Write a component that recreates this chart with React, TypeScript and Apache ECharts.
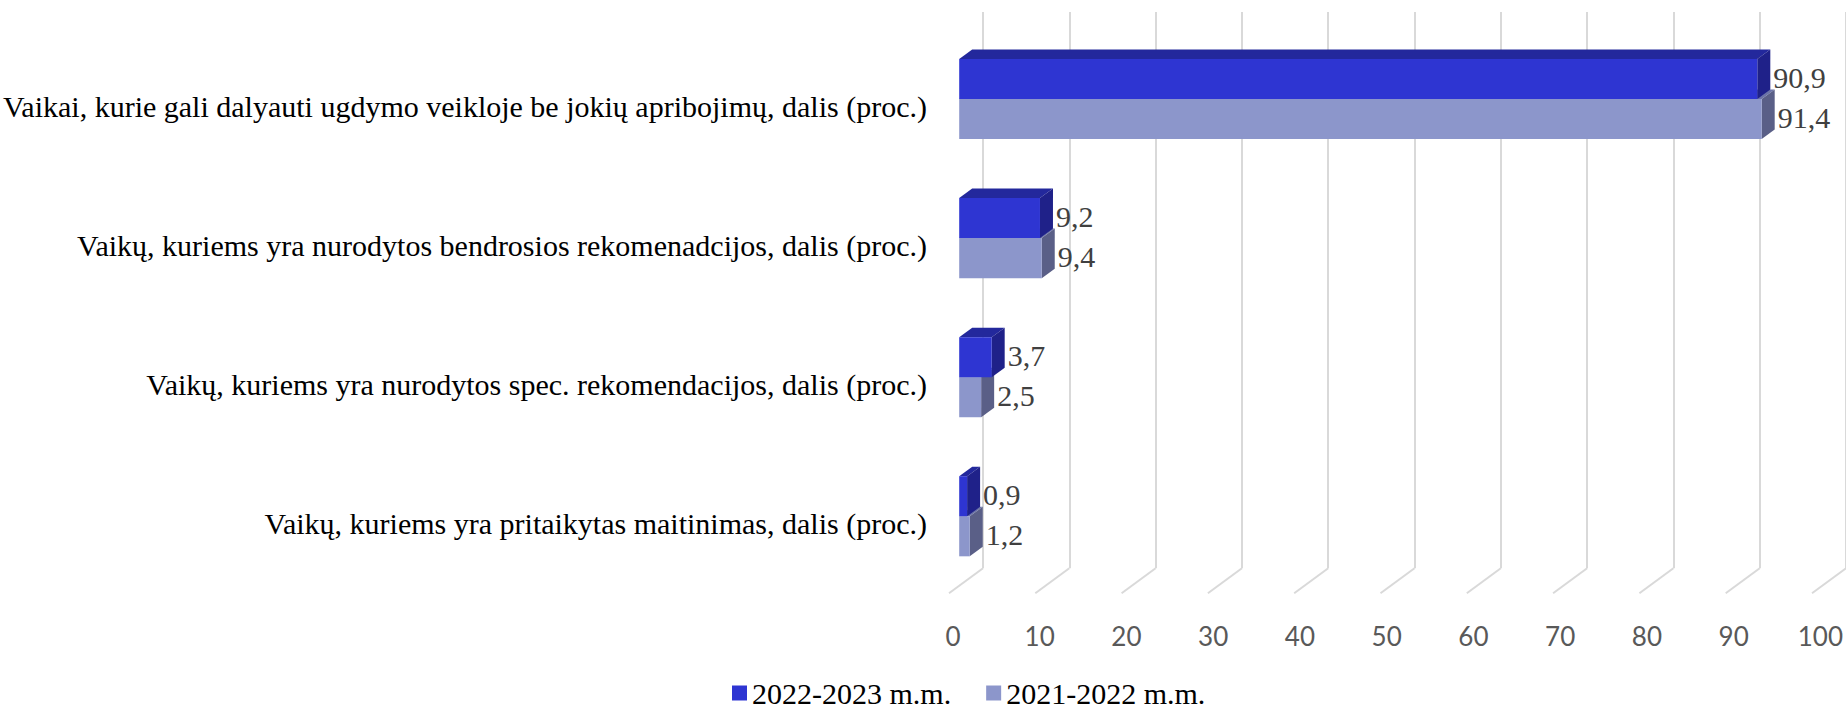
import React, { useEffect, useRef } from "react";
import * as echarts from "echarts";

// ---- data ----
const categories = [
  "Vaikai, kurie gali dalyauti ugdymo veikloje be jokių apribojimų, dalis (proc.)",
  "Vaikų, kuriems yra nurodytos bendrosios rekomenadcijos, dalis (proc.)",
  "Vaikų, kuriems yra nurodytos spec. rekomendacijos, dalis (proc.)",
  "Vaikų, kuriems yra pritaikytas maitinimas, dalis (proc.)",
];
const seriesNames = ["2022-2023 m.m.", "2021-2022 m.m."];
const values2022_2023 = [90.9, 9.2, 3.7, 0.9];
const values2021_2022 = [91.4, 9.4, 2.5, 1.2];
const xTicks = [0, 10, 20, 30, 40, 50, 60, 70, 80, 90, 100];

// ---- geometry / style ----
const W = 1846;
const H = 711;
const BACK_LEFT = 983;
const BACK_TOP = 12;
const BACK_BOTTOM = 568.3;
const PLOT_W = 878;
const FLOOR_DX = -34; // back -> front
const FLOOR_DY = 25;
const BAR_PLANE = 0.7; // fraction of depth where bar fronts sit
const BAR_DX = 13; // bar depth (front -> back)
const BAR_DY = -9.5;
const BAR_RATIO = 0.288;

const DARK = { front: "#2E35D2", top: "#23289C", side: "#1F2189" };
const LIGHT = { front: "#8C96CB", top: "#6B73A8", side: "#5A5F87" };

const fmt = (v: number) => v.toFixed(1).replace(".", ",");

function makeBarRender(isUpper: boolean, col: { front: string; top: string; side: string }) {
  return (params: any, api: any) => {
    const v = api.value(0);
    const ci = api.value(1);
    const c0 = api.coord([0, ci]);
    const c1 = api.coord([v, ci]);
    const band = api.size([0, 1])[1];
    const bw = band * BAR_RATIO;
    const top = isUpper ? c0[1] - bw : c0[1];
    const x0 = c0[0];
    const x1 = c1[0];
    return {
      type: "group",
      children: [
        {
          type: "polygon",
          shape: {
            points: [
              [x0, top],
              [x0 + BAR_DX, top + BAR_DY],
              [x1 + BAR_DX, top + BAR_DY],
              [x1, top],
            ],
          },
          style: { fill: col.top },
        },
        {
          type: "polygon",
          shape: {
            points: [
              [x1, top],
              [x1 + BAR_DX, top + BAR_DY],
              [x1 + BAR_DX, top + bw + BAR_DY],
              [x1, top + bw],
            ],
          },
          style: { fill: col.side },
        },
        {
          type: "rect",
          shape: { x: x0, y: top, width: x1 - x0, height: bw },
          style: { fill: col.front },
        },
        {
          type: "text",
          x: x1 + BAR_DX + 3,
          y: top + bw / 2 - 2,
          style: {
            text: fmt(v),
            fill: "#404040",
            font: '30px "Liberation Serif", serif',
            verticalAlign: "middle",
            align: "left",
          },
        },
      ],
    };
  };
}

export default function App() {
  const ref = useRef<HTMLDivElement>(null);
  useEffect(() => {
    if (!ref.current) return;
    const chart = echarts.init(ref.current, null, { renderer: "svg" });
    const frontLeft = BACK_LEFT + FLOOR_DX;
    const frontTop = BACK_TOP + FLOOR_DY;
    const barLeft = BACK_LEFT + FLOOR_DX * BAR_PLANE;
    const barTop = BACK_TOP + FLOOR_DY * BAR_PLANE;
    const plotH = BACK_BOTTOM - BACK_TOP;
    const option: any = {
      animation: false,
      backgroundColor: "#ffffff",
      grid: [
        { left: BACK_LEFT, top: BACK_TOP, width: PLOT_W, height: plotH },
        { left: frontLeft, top: frontTop, width: PLOT_W, height: plotH },
        { left: barLeft, top: barTop, width: PLOT_W, height: plotH },
      ],
      xAxis: [
        {
          gridIndex: 0,
          type: "value",
          min: 0,
          max: 100,
          interval: 10,
          axisLabel: { show: false },
          axisLine: { show: false },
          axisTick: { show: false },
          splitLine: { show: true, lineStyle: { color: "#D9D9D9", width: 2 } },
        },
        {
          gridIndex: 1,
          type: "value",
          min: 0,
          max: 100,
          interval: 10,
          axisLabel: {
            color: "#595959",
            fontFamily: "Lato",
            fontSize: 26,
            margin: 30,
          },
          axisLine: { show: false },
          axisTick: { show: false },
          splitLine: { show: false },
        },
        {
          gridIndex: 2,
          type: "value",
          min: 0,
          max: 100,
          show: false,
          splitLine: { show: false },
        },
      ],
      yAxis: [
        { gridIndex: 0, type: "value", min: 0, max: 1, show: false, splitLine: { show: false } },
        {
          gridIndex: 1,
          type: "category",
          inverse: true,
          data: categories,
          axisLine: { show: false },
          axisTick: { show: false },
          axisLabel: {
            color: "#000000",
            fontFamily: '"Liberation Serif", serif',
            fontSize: 30,
            margin: 26,
            padding: [6, 0, 0, 0],
          },
        },
        {
          gridIndex: 2,
          type: "category",
          inverse: true,
          data: categories,
          show: false,
        },
      ],
      legend: {
        data: [
          { name: seriesNames[0], itemStyle: { color: DARK.front } },
          { name: seriesNames[1], itemStyle: { color: LIGHT.front } },
        ],
        left: 727,
        top: 673,
        icon: "rect",
        itemWidth: 15,
        itemHeight: 15,
        itemGap: 35,
        textStyle: {
          color: "#000000",
          fontFamily: '"Liberation Serif", serif',
          fontSize: 30,
        },
      },
      series: [
        {
          type: "custom",
          name: "floor",
          xAxisIndex: 0,
          yAxisIndex: 0,
          silent: true,
          data: xTicks.map((t) => [t, 0]),
          renderItem: (params: any, api: any) => {
            const p = api.coord([api.value(0), 0]);
            return {
              type: "line",
              shape: { x1: p[0], y1: p[1], x2: p[0] + FLOOR_DX, y2: p[1] + FLOOR_DY },
              style: { stroke: "#D9D9D9", lineWidth: 2 },
            };
          },
        },
        {
          type: "custom",
          name: seriesNames[1],
          xAxisIndex: 2,
          yAxisIndex: 2,
          itemStyle: { color: LIGHT.front },
          data: values2021_2022.map((v, i) => [v, i]),
          renderItem: makeBarRender(false, LIGHT),
        },
        {
          type: "custom",
          name: seriesNames[0],
          xAxisIndex: 2,
          yAxisIndex: 2,
          itemStyle: { color: DARK.front },
          data: values2022_2023.map((v, i) => [v, i]),
          renderItem: makeBarRender(true, DARK),
        },
      ],
    };
    chart.setOption(option);
    return () => chart.dispose();
  }, []);
  return (
    <div
      ref={ref}
      style={{ position: "fixed", left: 0, top: 0, width: W, height: H, background: "#fff" }}
    />
  );
}
